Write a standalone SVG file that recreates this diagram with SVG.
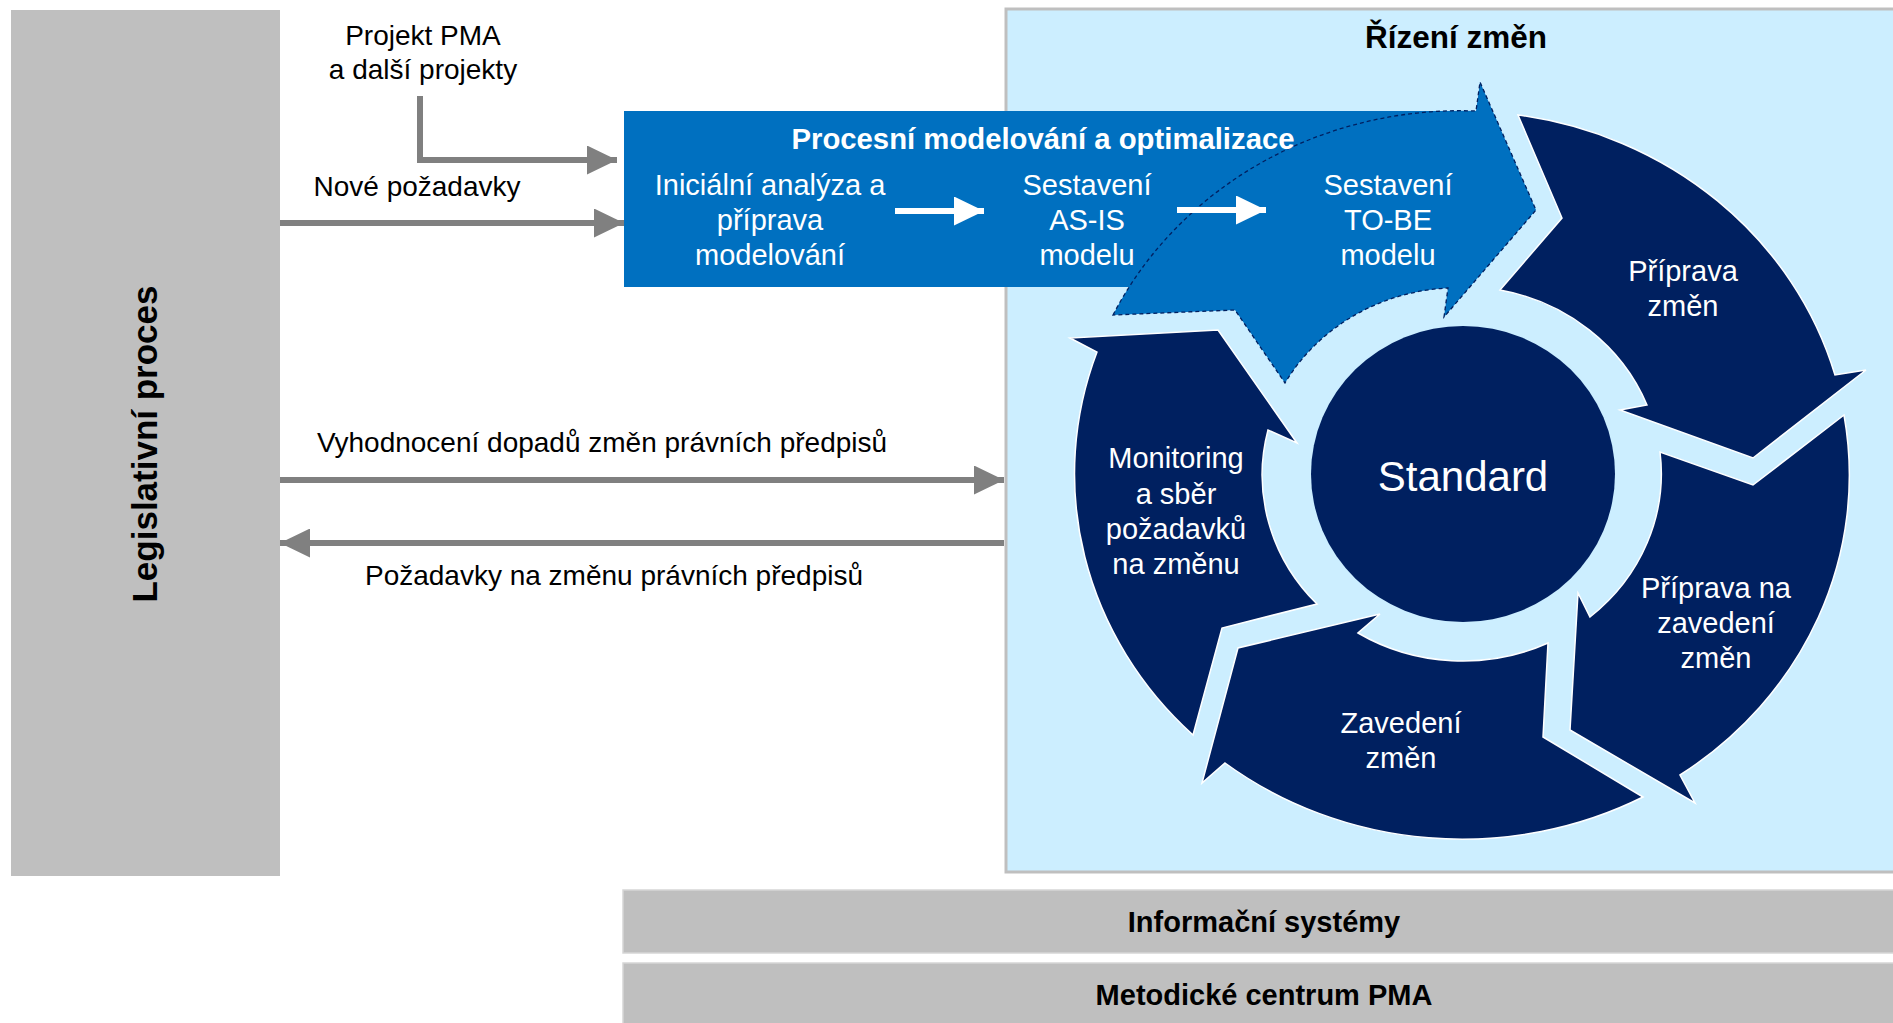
<svg xmlns="http://www.w3.org/2000/svg" width="1893" height="1023" viewBox="0 0 1893 1023">
<defs>
<style>
.t{font-family:"Liberation Sans",Arial,sans-serif;}
.lbl{font-size:28px;fill:#000;text-anchor:middle;}
.wt{font-size:29px;fill:#fff;text-anchor:middle;}
.bold{font-weight:bold;}
.seg{fill:#002060;stroke:#fff;stroke-width:1.5;stroke-linejoin:miter;}
.conn{fill:none;stroke:#808080;stroke-width:6;}
.wconn{fill:none;stroke:#fff;stroke-width:6;}
</style>
<marker id="ga" viewBox="0 0 30 29" refX="30" refY="14.5" markerWidth="30" markerHeight="29" markerUnits="userSpaceOnUse" orient="auto">
<path d="M0,0 L30,14.5 L0,29 Z" fill="#808080"/>
</marker>
<marker id="wa" viewBox="0 0 30 29" refX="30" refY="14.5" markerWidth="30" markerHeight="29" markerUnits="userSpaceOnUse" orient="auto">
<path d="M0,0 L30,14.5 L0,29 Z" fill="#fff"/>
</marker>
</defs>
<rect width="1893" height="1023" fill="#fff"/>

<g id="legislativni-proces">
<rect x="11" y="10" width="269" height="866" fill="#bfbfbf"/>
<text class="t bold" font-size="35" text-anchor="middle" transform="translate(157,444) rotate(-90)">Legislativní proces</text>
</g>

<g id="rizeni-zmen">
<rect x="1006" y="9" width="900" height="863" fill="#cceeff" stroke="#bfbfbf" stroke-width="3"/>
<text class="t bold" x="1456" y="48" font-size="31.5" text-anchor="middle">Řízení změn</text>
</g>

<g id="priprava-zmen">
<path class="seg" d="M1518 115 A386.5 362.5 0 0 1 1835 375 L1866 370 L1753 458 L1620 410 L1647 405 A199 187 0 0 0 1500 290 L1562 218 Z"/>
<text class="t wt"><tspan x="1683" y="281">Příprava</tspan><tspan x="1683" y="316">změn</tspan></text>
</g>

<g id="priprava-na-zavedeni">
<path class="seg" d="M1844 415 A386.5 362.5 0 0 1 1680 775 L1695 803 L1570 730 L1578 593 L1590 617 A199 187 0 0 0 1660 452 L1753 485 Z"/>
<text class="t wt"><tspan x="1716" y="598">Příprava na</tspan><tspan x="1716" y="633">zavedení</tspan><tspan x="1716" y="668">změn</tspan></text>
</g>

<g id="zavedeni-zmen">
<path class="seg" d="M1643 797 A386.5 362.5 0 0 1 1225 763 L1202 783 L1238 648 L1380 614 L1358 633 A199 187 0 0 0 1548 643 L1543 737 Z"/>
<text class="t wt"><tspan x="1401" y="733">Zavedení</tspan><tspan x="1401" y="768">změn</tspan></text>
</g>

<g id="monitoring">
<path class="seg" d="M1193 735 A386.5 362.5 0 0 1 1097 352 L1070 338 L1218 330 L1297 443 L1268 430 A199 187 0 0 0 1317 604 L1222 628 Z"/>
<text class="t wt"><tspan x="1176" y="468">Monitoring</tspan><tspan x="1176" y="504">a sběr</tspan><tspan x="1176" y="539">požadavků</tspan><tspan x="1176" y="574">na změnu</tspan></text>
</g>

<g id="standard">
<ellipse cx="1463" cy="474" rx="152" ry="148" fill="#002060"/>
<text class="t" x="1463" y="491" font-size="42" fill="#fff" text-anchor="middle">Standard</text>
</g>

<g id="procesni-modelovani">
<rect x="624" y="111" width="841" height="176" fill="#0070c0"/>
<path d="M1113 315 A386.5 362.5 0 0 1 1476 111 L1480 82 L1536 210 L1444 317 L1448 288 A199 187 0 0 0 1285 383 L1235 310 Z" fill="#0070c0" stroke="#002060" stroke-width="1.3" stroke-dasharray="4 3"/>
<text class="t bold" x="1043" y="149" font-size="29.3" fill="#fff" text-anchor="middle">Procesní modelování a optimalizace</text>
</g>

<g id="inicialni-analyza">
<text class="t wt"><tspan x="770" y="195">Iniciální analýza a</tspan><tspan x="770" y="230">příprava</tspan><tspan x="770" y="265">modelování</tspan></text>
</g>

<g id="as-is">
<text class="t wt"><tspan x="1087" y="195">Sestavení</tspan><tspan x="1087" y="230">AS-IS</tspan><tspan x="1087" y="265">modelu</tspan></text>
</g>

<g id="to-be">
<text class="t wt"><tspan x="1388" y="195">Sestavení</tspan><tspan x="1388" y="230">TO-BE</tspan><tspan x="1388" y="265">modelu</tspan></text>
</g>

<g id="informacni-systemy">
<rect x="623" y="890" width="1275" height="63" fill="#bfbfbf" stroke="#d6d6d6" stroke-width="1.5"/>
<text class="t bold" x="1264" y="932" font-size="29" text-anchor="middle">Informační systémy</text>
</g>

<g id="metodicke-centrum">
<rect x="623" y="963" width="1275" height="70" fill="#bfbfbf" stroke="#d6d6d6" stroke-width="1.5"/>
<text class="t bold" x="1264" y="1005" font-size="29" text-anchor="middle">Metodické centrum PMA</text>
</g>

<g id="connectors">
<path class="conn" d="M420 96 L420 160 L617 160" marker-end="url(#ga)"/>
<path class="conn" d="M280 223 L624 223" marker-end="url(#ga)"/>
<path class="conn" d="M280 480 L1004 480" marker-end="url(#ga)"/>
<path class="conn" d="M1004 543 L280 543" marker-end="url(#ga)"/>
<path class="wconn" d="M895 211 L984 211" marker-end="url(#wa)"/>
<path class="wconn" d="M1177 210 L1266 210" marker-end="url(#wa)"/>
<text class="t lbl"><tspan x="423" y="45">Projekt PMA</tspan><tspan x="423" y="79">a další projekty</tspan></text>
<text class="t lbl" x="417" y="196">Nové požadavky</text>
<text class="t lbl" x="602" y="452">Vyhodnocení dopadů změn právních předpisů</text>
<text class="t lbl" x="614" y="585">Požadavky na změnu právních předpisů</text>
</g>
</svg>
